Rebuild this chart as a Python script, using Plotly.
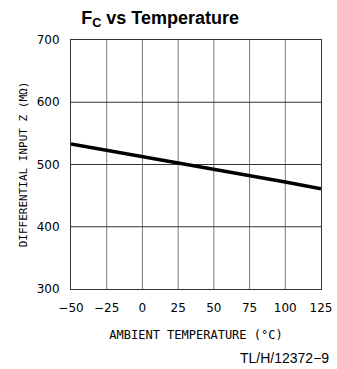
import plotly.graph_objects as go

temps = [-50, -25, 0, 25, 50, 75, 100, 125]
impedance = [533, 523, 513, 503, 492, 482, 472, 461]
x_ticks = [-50, -25, 0, 25, 50, 75, 100, 125]
y_ticks = [300, 400, 500, 600, 700]

fig = go.Figure()
fig.add_trace(go.Scatter(x=temps, y=impedance, mode="lines",
                         line=dict(color="black", width=3.5), showlegend=False))

for xv in x_ticks[1:-1]:
    fig.add_shape(type="line", xref="x", yref="paper", x0=xv, x1=xv, y0=0, y1=1,
                  line=dict(color="#7a7a7a", width=1), layer="below")
for yv in y_ticks[1:-1]:
    fig.add_shape(type="line", xref="paper", yref="y", x0=0, x1=1, y0=yv, y1=yv,
                  line=dict(color="#333333", width=1), layer="below")

fig.update_layout(
    width=337, height=369,
    margin=dict(l=71, r=16, t=40, b=80, autoexpand=False),
    paper_bgcolor="white", plot_bgcolor="white",
    title=dict(text="<b>F<sub>C</sub> vs Temperature</b>", x=0.475, xanchor="center",
               y=0.953, yanchor="middle",
               font=dict(family="Liberation Sans, Arial", size=18, color="black")),
    xaxis=dict(range=[-50, 125], tickvals=x_ticks, showgrid=False, zeroline=False,
               automargin=False,
               showline=True, linecolor="#333", linewidth=1, mirror=True, ticks="",
               ticklabelstandoff=8,
               tickfont=dict(family="DejaVu Sans", size=12, color="black"),
               title=dict(text="AMBIENT TEMPERATURE (°C)", standoff=16,
                          font=dict(family="DejaVu Sans Mono", size=12, color="black"))),
    yaxis=dict(range=[300, 700], tickvals=y_ticks, showgrid=False, zeroline=False,
               automargin=False,
               showline=True, linecolor="#333", linewidth=1, mirror=True, ticks="",
               ticklabelstandoff=8,
               tickfont=dict(family="DejaVu Sans", size=12, color="black"),
               title=dict(text="DIFFERENTIAL INPUT Z (MΩ)", standoff=6,
                          font=dict(family="DejaVu Sans Mono", size=11, color="black"))),
)
fig.add_annotation(text="TL/H/12372−9", xref="paper", yref="paper", x=1.04, y=-0.278,
                   xanchor="right", yanchor="middle", showarrow=False,
                   font=dict(family="Liberation Sans, Arial", size=14, color="black"))

fig.write_html("out.html")
